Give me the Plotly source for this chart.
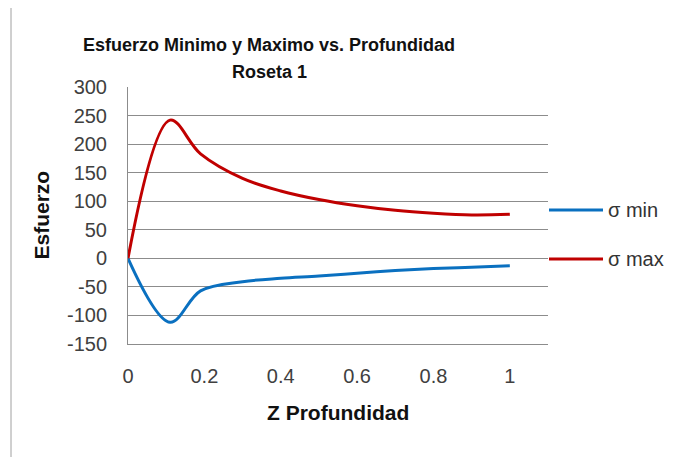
import plotly.graph_objects as go

# data
z = [0, 0.11, 0.19, 0.3, 0.4, 0.5, 0.6, 0.7, 0.8, 0.9, 1.0]
sigma_min = [0, -112, -57, -41, -35, -31, -26, -21.5, -18, -15.5, -13]
sigma_max = [0, 242, 183, 140, 118, 103, 92, 84, 79, 76, 77]
series_names = ["σ min", "σ max"]
series_colors = ["#0A70C0", "#C00000"]
x_ticks = [0, 0.2, 0.4, 0.6, 0.8, 1]
y_ticks = [-150, -100, -50, 0, 50, 100, 150, 200, 250, 300]

FONT = "Liberation Sans"
W, H = 673, 457
L, T, PW, PH = 120, 79, 420, 257


def px_x(p):
    return (p - L) / PW


def px_y(p):
    return 1 - (p - T) / PH


fig = go.Figure()
for name, vals, col in zip(series_names, [sigma_min, sigma_max], series_colors):
    fig.add_trace(go.Scatter(x=z, y=vals, mode="lines", name=name, showlegend=False,
                             line=dict(color=col, width=3, shape="spline", smoothing=1.0)))

annotations = [
    dict(text="<b>Esfuerzo Minimo y Maximo vs. Profundidad</b>", x=px_x(261), y=px_y(37),
         xref="paper", yref="paper", xanchor="center", yanchor="middle", showarrow=False,
         font=dict(size=18, color="#111111")),
    dict(text="<b>Roseta 1</b>", x=px_x(261), y=px_y(64),
         xref="paper", yref="paper", xanchor="center", yanchor="middle", showarrow=False,
         font=dict(size=18, color="#111111")),
    dict(text="<b>Z Profundidad</b>", x=0.5, y=px_y(404),
         xref="paper", yref="paper", xanchor="center", yanchor="middle", showarrow=False,
         font=dict(size=21, color="#111111")),
    dict(text="<b>Esfuerzo</b>", x=px_x(33), y=0.5, textangle=-90,
         xref="paper", yref="paper", xanchor="center", yanchor="middle", showarrow=False,
         font=dict(size=21, color="#111111")),
]
shapes = [
    dict(type="line", xref="paper", yref="paper", x0=px_x(3), x1=px_x(3),
         y0=px_y(H + 5), y1=px_y(-5), line=dict(color="#a0a0a0", width=1)),
]
for i, (name, col) in enumerate(zip(series_names, series_colors)):
    ly = 202 + 49 * i
    shapes.append(dict(type="line", xref="paper", yref="paper", x0=px_x(541), x1=px_x(595),
                       y0=px_y(ly), y1=px_y(ly), line=dict(color=col, width=3)))
    annotations.append(dict(text=name, x=px_x(598), y=px_y(ly), xref="paper", yref="paper",
                            xanchor="left", yanchor="middle", showarrow=False,
                            font=dict(size=20, color="#333333")))

fig.update_layout(
    width=W, height=H,
    margin=dict(l=L, r=W - L - PW, t=T, b=H - T - PH, autoexpand=False),
    paper_bgcolor="white", plot_bgcolor="white",
    font=dict(family=FONT, size=20, color="#404040"),
    xaxis=dict(range=[0, 1.1], tickvals=x_ticks, ticktext=[str(t) for t in x_ticks],
               showgrid=False, zeroline=False, showline=True, linecolor="#8c8c8c",
               linewidth=1, ticks="", ticklabelstandoff=14,
               tickfont=dict(size=20, color="#404040")),
    yaxis=dict(range=[-150, 300], tickvals=y_ticks, ticktext=[str(t) for t in y_ticks],
               showgrid=True, gridcolor="#8c8c8c",
               gridwidth=1, zeroline=False, showline=True, linecolor="#8c8c8c",
               linewidth=1, ticks="", ticklabelstandoff=16,
               tickfont=dict(size=20, color="#404040")),
    annotations=annotations,
    shapes=shapes,
)
fig.write_html("out.html")
